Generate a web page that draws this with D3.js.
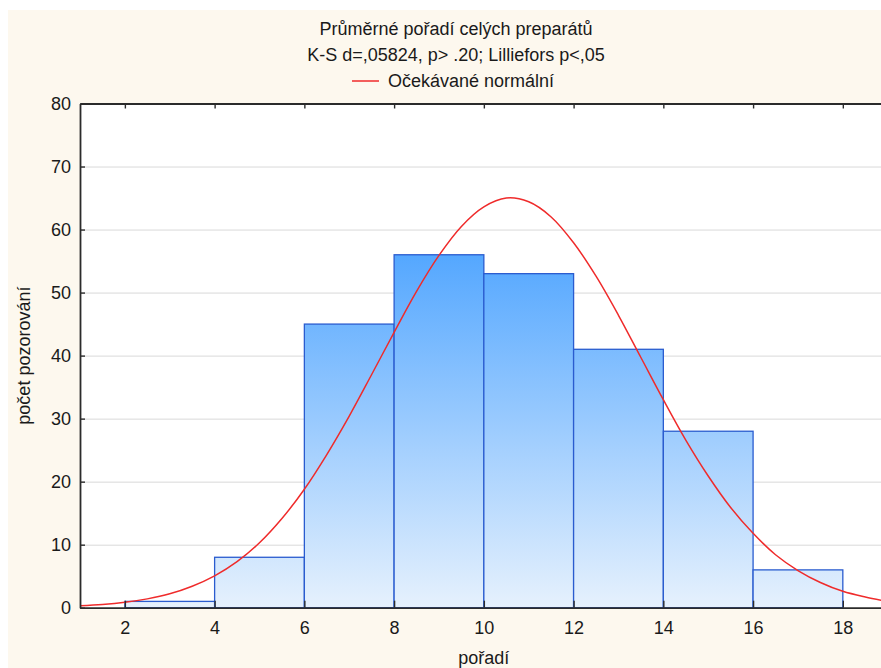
<!DOCTYPE html>
<html>
<head>
<meta charset="utf-8">
<script src="https://cdn.jsdelivr.net/npm/d3@7"></script>
<style>
  html, body { margin: 0; padding: 0; background: #ffffff; }
  svg { display: block; }
  text { font-family: Arial, "Liberation Sans", sans-serif; fill: #1a1a1a; }
</style>
</head>
<body>
<svg id="chart" width="881" height="668"></svg>
<script>
// Histogram: bin edges and observed counts
const binEdges = [2, 4, 6, 8, 10, 12, 14, 16, 18];
const counts = [1, 8, 45, 56, 53, 41, 28, 6];

// Expected normal curve (counts per bin width), sampled every 0.5
const normalX = [1, 1.5, 2, 2.5, 3, 3.5, 4, 4.5, 5, 5.5, 6, 6.5, 7, 7.5, 8, 8.5, 9, 9.5,
  10, 10.5, 11, 11.5, 12, 12.5, 13, 13.5, 14, 14.5, 15, 15.5, 16, 16.5, 17, 17.5, 18, 18.5, 19];
const normalY = [0.3, 0.5, 0.85, 1.4, 2.2, 3.4, 5.05, 7.3, 10.3, 14.15, 18.8, 24.3, 30.4, 37.0,
  43.7, 50.2, 55.9, 60.5, 63.6, 65.0, 64.4, 62.0, 57.9, 52.6, 46.4, 39.7, 33.0, 26.6, 20.9,
  15.9, 11.8, 8.4, 5.9, 4.0, 2.6, 1.7, 1.0];

// Axis ticks and texts
const xTicks = [2, 4, 6, 8, 10, 12, 14, 16, 18];
const yTicks = [0, 10, 20, 30, 40, 50, 60, 70, 80];
const titleLines = ["Průměrné pořadí celých preparátů", "K-S d=,05824, p> .20; Lilliefors p<,05"];
const legendLabel = "Očekávané normální";
const xLabel = "pořadí";
const yLabel = "počet pozorování";

const FONT = 18;
const svg = d3.select("#chart");

// cream panel behind everything
svg.append("rect").attr("x", 8).attr("y", 10).attr("width", 873).attr("height", 658)
  .attr("fill", "#fdf8ee");

const plot = { left: 80, right: 887.7, top: 103.5, bottom: 607.7 };
const x = d3.scaleLinear().domain([1, 19]).range([plot.left, plot.right]);
const y = d3.scaleLinear().domain([0, 80]).range([plot.bottom, plot.top]);

// plot background
svg.append("rect").attr("x", plot.left).attr("y", plot.top)
  .attr("width", plot.right - plot.left).attr("height", plot.bottom - plot.top)
  .attr("fill", "#ffffff");

// gradient spanning the value axis
const defs = svg.append("defs");
const grad = defs.append("linearGradient").attr("id", "barFill")
  .attr("gradientUnits", "userSpaceOnUse")
  .attr("x1", 0).attr("x2", 0).attr("y1", y(0)).attr("y2", y(60));
grad.append("stop").attr("offset", 0).attr("stop-color", "#e6f1fd");
grad.append("stop").attr("offset", 1).attr("stop-color", "#4aa2ff");

defs.append("clipPath").attr("id", "plotClip").append("rect")
  .attr("x", plot.left).attr("y", plot.top)
  .attr("width", plot.right - plot.left).attr("height", plot.bottom - plot.top);

// horizontal grid
svg.append("g").attr("transform", `translate(${plot.left},0)`)
  .call(d3.axisLeft(y).tickValues(yTicks.slice(1)).tickSize(-(plot.right - plot.left)).tickFormat(""))
  .call(g => g.select(".domain").remove())
  .call(g => g.selectAll("line").attr("stroke", "#d9d9d9").attr("stroke-width", 1));

// bars
const bins = counts.map((c, i) => ({ x0: binEdges[i], x1: binEdges[i + 1], n: c }));
svg.append("g").selectAll("rect").data(bins).join("rect")
  .attr("x", d => x(d.x0))
  .attr("y", d => y(d.n))
  .attr("width", d => x(d.x1) - x(d.x0))
  .attr("height", d => y(0) - y(d.n))
  .attr("fill", "url(#barFill)")
  .attr("stroke", "#2a5ccf")
  .attr("stroke-width", 1.3);

// expected normal curve
const pts = normalX.map((v, i) => [v, normalY[i]]);
svg.append("path").datum(pts)
  .attr("clip-path", "url(#plotClip)")
  .attr("fill", "none")
  .attr("stroke", "#ef2b2b")
  .attr("stroke-width", 1.5)
  .attr("d", d3.line().x(d => x(d[0])).y(d => y(d[1])).curve(d3.curveCatmullRom));

// axes
const axisColor = "#2b2b2b";
const xAxis = svg.append("g").attr("transform", `translate(0,${plot.bottom})`)
  .call(d3.axisBottom(x).tickValues(xTicks).tickSizeInner(-7).tickSizeOuter(0).tickPadding(14));
const topAxis = svg.append("g").attr("transform", `translate(0,${plot.top})`)
  .call(d3.axisTop(x).tickValues(xTicks).tickSizeInner(-5).tickSizeOuter(0).tickFormat(""));
const yAxis = svg.append("g").attr("transform", `translate(${plot.left},0)`)
  .call(d3.axisLeft(y).tickValues(yTicks).tickSizeInner(-5).tickSizeOuter(0).tickPadding(9));

[xAxis, topAxis, yAxis].forEach(g => {
  g.select(".domain").attr("stroke", axisColor).attr("stroke-width", 1.8);
  g.selectAll(".tick line").attr("stroke", axisColor).attr("stroke-width", 1.4);
  g.selectAll("text").attr("font-size", FONT).attr("fill", "#1a1a1a")
    .attr("font-family", "Arial, 'Liberation Sans', sans-serif");
});

// titles
svg.append("g").selectAll("text").data(titleLines).join("text")
  .attr("x", 456).attr("y", (d, i) => 35 + i * 25.5)
  .attr("text-anchor", "middle").attr("font-size", FONT)
  .text(d => d);

// legend
svg.append("line").attr("x1", 352).attr("x2", 379).attr("y1", 81).attr("y2", 81)
  .attr("stroke", "#ef2b2b").attr("stroke-width", 1.5);
svg.append("text").attr("x", 388).attr("y", 87).attr("font-size", FONT).text(legendLabel);

// axis titles
svg.append("text").attr("x", (plot.left + plot.right) / 2).attr("y", 663.5)
  .attr("text-anchor", "middle").attr("font-size", FONT).text(xLabel);
svg.append("text")
  .attr("transform", `translate(29.5,${(plot.top + plot.bottom) / 2}) rotate(-90)`)
  .attr("text-anchor", "middle").attr("font-size", FONT).text(yLabel);
</script>
</body>
</html>
